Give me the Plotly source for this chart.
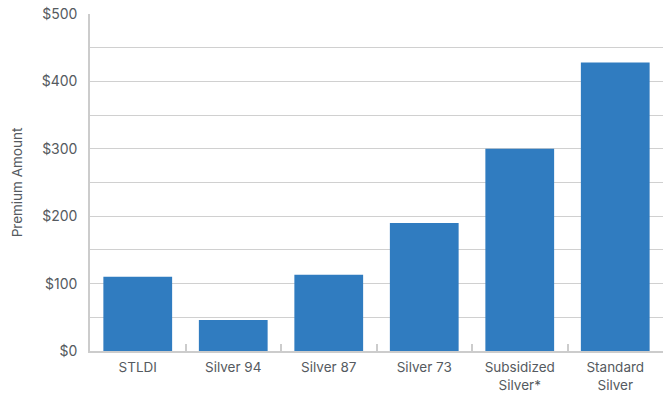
import plotly.graph_objects as go

categories = ["STLDI", "Silver 94", "Silver 87", "Silver 73", "Subsidized<br>Silver*", "Standard<br>Silver"]
premiums = [110, 46, 113, 190, 300, 428]
tick_vals = [0, 100, 200, 300, 400, 500]
tick_text = ["$0", "$100", "$200", "$300", "$400", "$500"]

fig = go.Figure(go.Bar(x=categories, y=premiums, marker_color="#307cc0", marker_line_width=0))

fig.update_layout(
    width=670, height=395,
    margin=dict(l=90, r=7, t=14, b=44),
    plot_bgcolor="white", paper_bgcolor="white",
    bargap=0.28,
    font=dict(family="Inter, sans-serif", size=14, color="#555a60"),
    showlegend=False,
)
fig.update_yaxes(
    range=[0, 500], tickvals=tick_vals, ticktext=tick_text,
    showgrid=True, gridcolor="#d0d0d0", gridwidth=1,
    minor=dict(dtick=50, showgrid=True, gridcolor="#d0d0d0", gridwidth=1),
    showline=True, linecolor="#cccccc", linewidth=1.5,
    zeroline=False, ticks="", ticklabelstandoff=8,
    title=dict(text="Premium Amount", font=dict(size=13.5), standoff=16),
    automargin=False,
)
fig.update_xaxes(
    showline=True, linecolor="#cccccc", linewidth=1.5,
    tickson="boundaries", ticks="inside", ticklen=7, tickcolor="#cccccc", tickwidth=1.5,
    showgrid=False, ticklabelstandoff=3, automargin=False,
    tickfont=dict(size=13.5),
)
fig.write_html("out.html")
